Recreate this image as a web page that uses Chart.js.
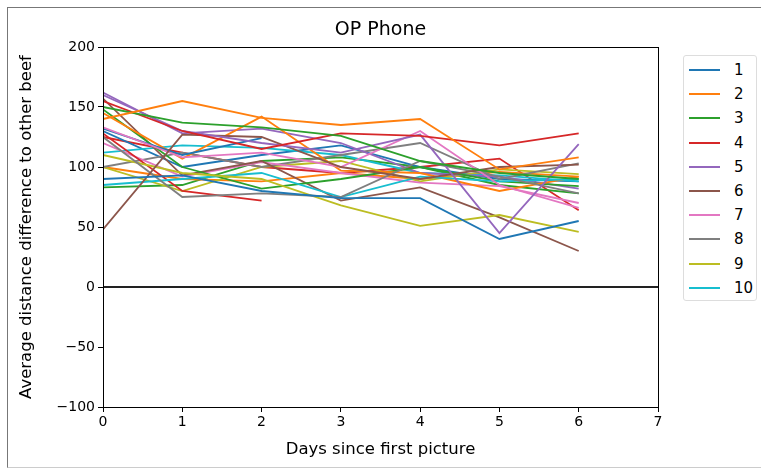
<!DOCTYPE html>
<html><head><meta charset="utf-8">
<script src="https://cdn.jsdelivr.net/npm/chart.js@4"></script>
<style>
html,body{margin:0;padding:0;background:#fff;}
#wrap{position:relative;width:761px;height:470px;overflow:hidden;font-family:'DejaVu Sans',sans-serif;}
#frame{position:absolute;left:7px;top:7px;width:800px;height:459px;border-top:1px solid #777;border-left:1px solid #777;border-bottom:1px solid #ccc;}
canvas{position:absolute;left:0;top:0;}
#legend{position:absolute;left:683px;top:55px;width:72px;height:244px;border:1px solid #ddd;border-radius:3px;background:#fff;}
.item{position:absolute;left:0;width:72px;height:20px;}
.sw{position:absolute;left:5px;top:9px;width:31px;height:2px;}
.lab{position:absolute;left:50px;top:1px;font-size:15px;line-height:18px;color:#000;}
</style></head>
<body><div id="wrap"><div id="frame"></div><canvas id="c" width="761" height="470"></canvas><div id="legend"></div></div>
<script>
const chartTitle = 'OP Phone';
const days = [0, 1, 2, 3, 4, 5, 6];
const s01 = [90, 93, 80, 74, 74, 40, 55];
const s02 = [140, 155, 141, 135, 140, 98, 108];
const s03 = [150, 137, 133, 126, 105, 95, 90];
const s04 = [155, 130, 115, 128, 126, 118, 128];
const s05 = [160, 130, 120, 112, 127, 45, 119];
const s06 = [48, 127, 125, 100, 90, 100, 102];
const s07 = [133, 108, 112, 100, 130, 85, 66];
const s08 = [125, 75, 78, 75, 105, 92, 78];
const s09 = [110, 95, 90, 68, 51, 60, 46];
const s10 = [85, 90, 95, 75, 92, 88, 90];
const s11 = [132, 110, 124];
const s12 = [145, 107, 142, 97, 95, 80, 92];
const s13 = [148, 100, 82, 90, 100, 88, 84];
const s14 = [128, 80, 72];
const s15 = [162, 128, 132, 120, 95, 92, 82];
const s16 = [157, 93, 105, 72, 83, 58, 30];
const s17 = [120, 92, 104, 95, 87, 84, 70];
const s18 = [100, 112, 100, 110, 120, 90, 103];
const s19 = [100, 80, 100, 105, 88, 98, 94];
const s20 = [112, 118, 116, 110, 95, 93, 88];
const s21 = [130, 100, 110, 118, 100, 90, 88];
const s22 = [100, 90, 88, 95, 90, 96, 92];
const s23 = [83, 85, 105, 108, 100, 85, 78];
const s24 = [125, 112, 100, 95, 100, 107, 64];
const seriesValues = [s01,s02,s03,s04,s05,s06,s07,s08,s09,s10,s11,s12,s13,s14,s15,s16,s17,s18,s19,s20,s21,s22,s23,s24];
const legendLabels = ['1','2','3','4','5','6','7','8','9','10'];
const yTicks = [-100, -50, 0, 50, 100, 150, 200];
const xTicks = [0, 1, 2, 3, 4, 5, 6, 7];
const zeroLine = [0, 0];
const palette = ['#1f77b4','#ff7f0e','#2ca02c','#d62728','#9467bd','#8c564b','#e377c2','#7f7f7f','#bcbd22','#17becf'];

const datasets = seriesValues.map((vals, i) => ({
  label: String(i + 1),
  data: vals.map((v, j) => ({x: days[j], y: v})),
  borderColor: palette[i % 10],
  backgroundColor: palette[i % 10],
  borderWidth: 1.8,
  pointRadius: 0,
  tension: 0,
  fill: false
}));
datasets.push({
  label: 'zero',
  data: [{x: xTicks[0], y: zeroLine[0]}, {x: xTicks[xTicks.length-1], y: zeroLine[1]}],
  borderColor: '#222', borderWidth: 2.2, pointRadius: 0, fill: false
});

const boxPlugin = {
  id: 'box',
  afterDatasetsDraw(chart) {
    const {ctx, chartArea: a} = chart;
    ctx.save(); ctx.strokeStyle = '#000'; ctx.lineWidth = 1;
    ctx.strokeRect(Math.round(a.left) + 0.5, Math.round(a.top) + 0.5, Math.round(a.right - a.left), Math.round(a.bottom - a.top));
    ctx.fillStyle = '#000'; ctx.font = '19px "DejaVu Sans"';
    ctx.textAlign = 'center'; ctx.textBaseline = 'middle';
    ctx.fillText(chartTitle, (a.left + a.right) / 2, 30);
    ctx.restore();
  }
};

const tickFont = {family: 'DejaVu Sans', size: 14};
const labFont = {family: 'DejaVu Sans', size: 16.5};
new Chart(document.getElementById('c'), {
  type: 'line',
  data: {datasets},
  options: {
    responsive: false, animation: false, devicePixelRatio: 1,
    layout: {padding: {left: 8, right: 103, top: 47, bottom: 0}},
    plugins: {legend: {display: false}, tooltip: {enabled: false}, title: {display: false}},
    scales: {
      x: {
        type: 'linear', min: 0, max: 7,
        afterBuildTicks: s => { s.ticks = xTicks.map(v => ({value: v})); },
        afterFit: s => { s.height = 63; },
        grid: {display: true, drawOnChartArea: false, drawTicks: true, tickLength: 5, color: '#000'},
        border: {display: true, color: '#000'},
        ticks: {color: '#000', font: tickFont, padding: 2, maxRotation: 0},
        title: {display: true, text: 'Days since first picture', color: '#000', font: labFont, padding: {top: 0, bottom: 10}}
      },
      y: {
        type: 'linear', min: -100, max: 200,
        afterBuildTicks: s => { s.ticks = yTicks.map(v => ({value: v})); },
        afterFit: s => { s.width = 95; },
        grid: {display: true, drawOnChartArea: false, drawTicks: true, tickLength: 5, color: '#000'},
        border: {display: true, color: '#000'},
        ticks: {color: '#000', font: tickFont, padding: 3, callback: v => (v < 0 ? '\u2212' + Math.abs(v) : String(v))},
        title: {display: true, text: 'Average distance difference to other beef', color: '#000', font: labFont, padding: {top: 9, bottom: 0}}
      }
    }
  },
  plugins: [boxPlugin]
});

const leg = document.getElementById('legend');
legendLabels.forEach((lab, i) => {
  const it = document.createElement('div');
  it.className = 'item'; it.style.top = (4 + i * 24.2) + 'px';
  it.innerHTML = '<div class="sw" style="background:' + palette[i] + '"></div><div class="lab">' + lab + '</div>';
  leg.appendChild(it);
});
</script></body></html>
